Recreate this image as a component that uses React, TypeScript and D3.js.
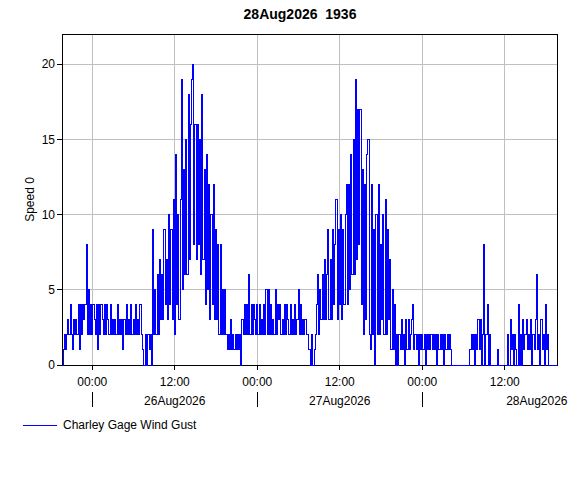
import React from "react";
import * as d3 from "d3";

// ---- data (10-minute gust readings, m/s) ----
const title = "28Aug2026  1936";
const seriesName = "Charley Gage Wind Gust";
const yLabel = "Speed 0";
const startTime = Date.UTC(2026, 7, 25, 19, 36);
const endTime = Date.UTC(2026, 7, 28, 19, 36);
const stepMinutes = 10;

const gustA = [0,1,2,1,2,3,2,4,2,1,3,2,3,2,4,1,4,2,4,3,4,8,2,5,2,4,2,4,3,2,4,1,4,2,4,3];
const gustB = [2,4,2,4,3,2,4,2,3,2,3,2,4,2,3,2,3,1,3,2,4,2,3,2,4,2,3,2,4,2,3,2,4,2,1,0];
const gustC = [0,2,0,2,1,2,0,9,2,5,2,6,2,7,3,6,3,9,4,7,3,10,4,9,3,11,2,14,4,10,3,11,19,5,13,6];
const gustD = [15,6,18,7,16,19,20,8,16,7,16,8,15,6,18,7,13,4,14,5,12,3,10,4,12,3,9,3,8,2,8,2,5,2,5,2];
const gustE = [1,2,1,3,1,2,1,2,1,2,1,2,0,3,2,4,2,4,2,6,2,4,2,4,3,2,4,2,4,2,3,2,4,2,5,2];
const gustF = [5,2,4,2,3,2,5,2,4,3,4,2,3,2,4,2,4,3,2,4,2,3,2,4,2,3,5,2,4,2,3,2,3,2,2,1];
const gustG = [1,0,2,0,1,2,4,6,2,5,3,6,3,7,3,6,9,3,7,3,9,4,8,11,3,9,4,10,3,9,4,10,12,4,12,5];
const gustH = [14,6,15,6,19,7,17,8,17,4,13,2,12,3,14,15,2,1,12,2,9,0,10,2,12,2,8,3,10,2,11,2,9,3,7,1];
const gustI = [5,1,4,0,2,0,2,1,3,1,2,0,3,1,3,1,2,3,4,1,2,1,2,0,2,1,2,1,2,0,2,1,2,1,2,1];
const gustJ = [2,1,2,0,2,1,2,1,2,0,2,1,2,1,2,1,0,0,0,0,0,0,0,0,0,0,0,0,0,0,0,0,1,2,1,2];
const gustK = [0,2,1,3,1,3,0,2,8,0,2,4,0,2,0,0,0,0,0,0,1,0,0,0,0,0,0,0,0,2,0,3,1,2,0,2];
const gustL = [1,0,4,0,2,0,3,1,2,3,1,2,1,3,0,2,1,3,6,1,2,0,3,1,2,0,4,1,2,0,0,0,0,0,0,0,0];

const yTicks = [0, 5, 10, 15, 20];
const yMax = 22;
const dayLabels = [
  { text: "26Aug2026", at: Date.UTC(2026, 7, 26, 12, 0) },
  { text: "27Aug2026", at: Date.UTC(2026, 7, 27, 12, 0) },
  { text: "28Aug2026", at: Date.UTC(2026, 7, 28, 16, 40) },
];

const W = 584;
const H = 488;
const plot = { left: 62, right: 557, top: 34, bottom: 365 };
const FONT = "'Liberation Sans', Arial, Helvetica, sans-serif";

export default function App() {
  const values = [
    ...gustA, ...gustB, ...gustC, ...gustD, ...gustE, ...gustF,
    ...gustG, ...gustH, ...gustI, ...gustJ, ...gustK, ...gustL,
  ];
  const data = values.map((v, i) => ({
    t: new Date(startTime + i * stepMinutes * 60000),
    v,
  }));

  const x = d3
    .scaleUtc()
    .domain([new Date(startTime), new Date(endTime)])
    .range([plot.left, plot.right]);
  const y = d3.scaleLinear().domain([0, yMax]).range([plot.bottom, plot.top]);

  const line = d3
    .line<{ t: Date; v: number }>()
    .curve(d3.curveStepAfter)
    .x((d) => x(d.t))
    .y((d) => y(d.v));

  const hourTicks = d3.utcHour
    .every(12)!
    .range(new Date(startTime), new Date(endTime));
  const dayTicks = d3.utcDay.range(new Date(startTime), new Date(endTime));
  const fmt = d3.utcFormat("%H:%M");

  return (
    <svg
      width={W}
      height={H}
      style={{ position: "absolute", left: 0, top: 0, background: "#fff" }}
      fontFamily={FONT}
    >
      <rect x={0} y={0} width={W} height={H} fill="#fff" />
      <text
        x={300}
        y={19}
        textAnchor="middle"
        fontWeight="bold"
        fontSize={14}
        style={{ whiteSpace: "pre" }}
      >
        {title}
      </text>

      {/* grid */}
      <g stroke="#c0c0c0" strokeWidth={1} shapeRendering="crispEdges">
        {yTicks
          .filter((t) => t > 0)
          .map((t) => (
            <line key={"gy" + t} x1={plot.left} x2={plot.right} y1={y(t)} y2={y(t)} />
          ))}
        {hourTicks.map((t) => (
          <line key={"gx" + +t} x1={x(t)} x2={x(t)} y1={plot.top} y2={plot.bottom} />
        ))}
      </g>

      {/* frame */}
      <rect
        x={plot.left}
        y={plot.top}
        width={plot.right - plot.left}
        height={plot.bottom - plot.top}
        fill="none"
        stroke="#000"
        strokeWidth={1}
        shapeRendering="crispEdges"
      />

      {/* series */}
      <path
        d={line(data) || ""}
        fill="none"
        stroke="#0000ff"
        strokeWidth={1}
        shapeRendering="crispEdges"
      />

      {/* y axis */}
      <g fontSize={12} fill="#000">
        {yTicks.map((t) => (
          <g key={"yt" + t}>
            <line
              x1={plot.left - 5}
              x2={plot.left}
              y1={y(t)}
              y2={y(t)}
              stroke="#000"
              shapeRendering="crispEdges"
            />
            <text x={plot.left - 7} y={y(t)} dy="0.35em" textAnchor="end">
              {t}
            </text>
          </g>
        ))}
      </g>
      <text
        transform={`translate(34, ${(plot.top + plot.bottom) / 2}) rotate(-90)`}
        textAnchor="middle"
        fontSize={12}
      >
        {yLabel}
      </text>

      {/* x axis */}
      <g fontSize={12} fill="#000">
        {hourTicks.map((t) => (
          <g key={"xt" + +t}>
            <line
              x1={x(t)}
              x2={x(t)}
              y1={plot.bottom}
              y2={plot.bottom + 5}
              stroke="#000"
              shapeRendering="crispEdges"
            />
            <text x={x(t)} y={386} textAnchor="middle">
              {fmt(t)}
            </text>
          </g>
        ))}
        {dayTicks.map((t) => (
          <line
            key={"dt" + +t}
            x1={x(t)}
            x2={x(t)}
            y1={392}
            y2={407}
            stroke="#000"
            shapeRendering="crispEdges"
          />
        ))}
        {dayLabels.map((d) => (
          <text key={d.text} x={x(new Date(d.at))} y={405} textAnchor="middle">
            {d.text}
          </text>
        ))}
      </g>

      {/* legend */}
      <line x1={23} x2={57} y1={425.5} y2={425.5} stroke="#0000ff" strokeWidth={1} />
      <text x={63} y={429} fontSize={12}>
        {seriesName}
      </text>
    </svg>
  );
}
